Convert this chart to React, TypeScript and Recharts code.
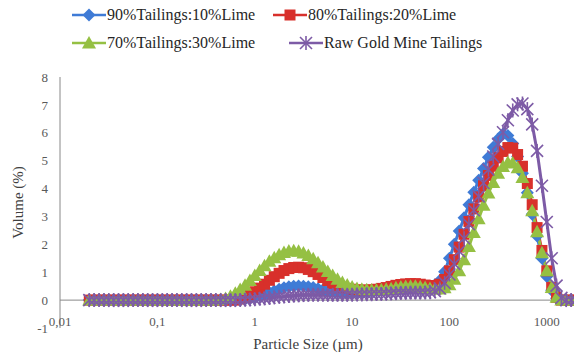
import React from 'react';
import { LineChart, Line, XAxis, YAxis, ReferenceLine } from 'recharts';

// particle size bins (µm), 20 per decade
const sizes = [
  0.02, 0.0224, 0.0252, 0.0283, 0.0317, 0.0356, 0.0399, 0.0448, 0.0502, 0.0564,
  0.0632, 0.071, 0.0796, 0.0893, 0.1002, 0.1125, 0.1262, 0.1416, 0.1589, 0.1783,
  0.2, 0.2244, 0.2518, 0.2825, 0.317, 0.3557, 0.3991, 0.4477, 0.5024, 0.5637,
  0.6325, 0.7096, 0.7962, 0.8934, 1.002, 1.125, 1.262, 1.416, 1.589, 1.783,
  2.0, 2.244, 2.518, 2.825, 3.17, 3.557, 3.991, 4.477, 5.024, 5.637,
  6.325, 7.096, 7.962, 8.934, 10.02, 11.25, 12.62, 14.16, 15.89, 17.83,
  20.0, 22.44, 25.18, 28.25, 31.7, 35.57, 39.91, 44.77, 50.24, 56.37,
  63.25, 70.96, 79.62, 89.34, 100.2, 112.5, 126.2, 141.6, 158.9, 178.3,
  200, 224.4, 251.8, 282.5, 317.0, 355.7, 399.1, 447.7, 502.4, 563.7,
  632.5, 709.6, 796.2, 893.4, 1002, 1125, 1262, 1416, 1589, 1783,
  2000,
];

const lime10 = [
  0, 0, 0, 0, 0, 0, 0, 0, 0, 0,
  0, 0, 0, 0, 0, 0, 0, 0, 0, 0,
  0, 0, 0, 0, 0, 0, 0, 0, 0, 0,
  0, 0, 0.03, 0.06, 0.1, 0.15, 0.21, 0.27, 0.33, 0.39,
  0.44, 0.48, 0.5, 0.51, 0.5, 0.48, 0.45, 0.41, 0.37, 0.33,
  0.3, 0.28, 0.27, 0.26, 0.26, 0.27, 0.28, 0.3, 0.32, 0.34,
  0.37, 0.4, 0.43, 0.46, 0.49, 0.51, 0.52, 0.52, 0.51, 0.5,
  0.5, 0.55, 0.7, 1.02, 1.5, 2.0, 2.48, 2.95, 3.42, 3.87,
  4.3, 4.72, 5.12, 5.48, 5.78, 5.96, 5.9, 5.62, 5.15, 4.55,
  3.85, 3.08, 2.3, 1.5, 0.85, 0.35, 0.07, 0, 0, 0,
  0,
];

const lime20 = [
  0, 0, 0, 0, 0, 0, 0, 0, 0, 0,
  0, 0, 0, 0, 0, 0, 0, 0, 0, 0,
  0, 0, 0, 0, 0, 0, 0, 0, 0, 0,
  0, 0.04, 0.1, 0.19, 0.3, 0.43, 0.57, 0.71, 0.84, 0.96,
  1.06, 1.13, 1.17, 1.18, 1.16, 1.1, 1.02, 0.92, 0.81, 0.7,
  0.6, 0.52, 0.46, 0.42, 0.39, 0.37, 0.36, 0.36, 0.37, 0.39,
  0.42, 0.45, 0.49, 0.53, 0.56, 0.58, 0.59, 0.59, 0.57, 0.54,
  0.52, 0.52, 0.57, 0.74, 1.05, 1.45, 1.9, 2.36, 2.82, 3.27,
  3.7, 4.1, 4.47, 4.8, 5.1, 5.33, 5.47, 5.45, 5.22, 4.8,
  4.18, 3.42, 2.6, 1.78, 1.05, 0.45, 0.1, 0, 0, 0,
  0,
];

const lime30 = [
  0, 0, 0, 0, 0, 0, 0, 0, 0, 0,
  0, 0, 0, 0, 0, 0, 0, 0, 0, 0,
  0, 0, 0, 0, 0, 0, 0, 0.02, 0.06, 0.14,
  0.25, 0.38, 0.53, 0.7, 0.88, 1.06, 1.23, 1.39, 1.52, 1.63,
  1.71, 1.76, 1.77, 1.75, 1.69, 1.6, 1.48, 1.34, 1.19, 1.03,
  0.88, 0.75, 0.63, 0.54, 0.47, 0.42, 0.39, 0.37, 0.36, 0.36,
  0.37, 0.39, 0.41, 0.44, 0.47, 0.49, 0.5, 0.5, 0.48, 0.45,
  0.42, 0.4, 0.4, 0.44, 0.55, 0.75, 1.05, 1.45, 1.92, 2.42,
  2.92, 3.4, 3.84, 4.22, 4.55, 4.79, 4.93, 4.92, 4.75, 4.4,
  3.85, 3.2, 2.45, 1.7, 1.05, 0.45, 0.1, 0, 0, 0,
  0,
];

const rawTailings = [
  0, 0, 0, 0, 0, 0, 0, 0, 0, 0,
  0, 0, 0, 0, 0, 0, 0, 0, 0, 0,
  0, 0, 0, 0, 0, 0, 0, 0, 0, 0,
  0, 0, 0.01, 0.02, 0.03, 0.05, 0.06, 0.08, 0.1, 0.12,
  0.13, 0.15, 0.16, 0.17, 0.18, 0.19, 0.19, 0.19, 0.19, 0.19,
  0.19, 0.19, 0.19, 0.19, 0.19, 0.2, 0.2, 0.21, 0.21, 0.22,
  0.22, 0.23, 0.24, 0.25, 0.26, 0.26, 0.27, 0.27, 0.27, 0.27,
  0.28, 0.32, 0.42, 0.62, 0.92, 1.3, 1.75, 2.22, 2.72, 3.22,
  3.72, 4.2, 4.68, 5.15, 5.6, 6.02, 6.45, 6.8, 7.02, 7.05,
  6.85, 6.3, 5.35, 4.1, 2.8, 1.5, 0.52, 0.08, 0, 0,
  0,
];

const xTicks = [0.01, 0.1, 1, 10, 100, 1000];
const yTicks = [-1, 0, 1, 2, 3, 4, 5, 6, 7, 8];

const series = [
  { key: 'lime10', name: '90%Tailings:10%Lime', color: '#3f7bd6', shape: 'diamond' },
  { key: 'lime20', name: '80%Tailings:20%Lime', color: '#d8302b', shape: 'square' },
  { key: 'lime30', name: '70%Tailings:30%Lime', color: '#95c043', shape: 'triangle' },
  { key: 'raw', name: 'Raw Gold Mine Tailings', color: '#7d5ba6', shape: 'star' },
];

const data = sizes.map((s, i) => ({
  size: s,
  lime10: lime10[i],
  lime20: lime20[i],
  lime30: lime30[i],
  raw: rawTailings[i],
}));

const FONT = 'Liberation Serif, DejaVu Serif, serif';

function Marker({ cx, cy, shape, color }: any) {
  if (shape === 'diamond') {
    return <polygon points={`${cx},${cy - 6.5} ${cx + 6.5},${cy} ${cx},${cy + 6.5} ${cx - 6.5},${cy}`} fill={color} />;
  }
  if (shape === 'square') {
    return <rect x={cx - 5.5} y={cy - 5.5} width={11} height={11} fill={color} />;
  }
  if (shape === 'triangle') {
    return <polygon points={`${cx},${cy - 7} ${cx + 7},${cy + 5.5} ${cx - 7},${cy + 5.5}`} fill={color} />;
  }
  return (
    <g stroke={color} strokeWidth={1.6}>
      <line x1={cx - 6} y1={cy - 6} x2={cx + 6} y2={cy + 6} />
      <line x1={cx - 6} y1={cy + 6} x2={cx + 6} y2={cy - 6} />
      <line x1={cx} y1={cy - 7} x2={cx} y2={cy + 7} />
    </g>
  );
}

const makeDot = (shape: string, color: string) => (props: any) => {
  const { cx, cy, index } = props;
  if (cx == null || cy == null) return <g key={index} />;
  return (
    <g key={index}>
      <Marker cx={cx} cy={cy} shape={shape} color={color} />
    </g>
  );
};

const XTick = ({ x, y, payload }: any) => (
  <text x={x} y={y} dy={-2} textAnchor="middle" fontSize={13} fontFamily={FONT} fill="#595959">
    {String(payload.value).replace('.', ',')}
  </text>
);

const legendPos = [
  { left: 72, top: 6 },
  { left: 273, top: 6 },
  { left: 72, top: 34 },
  { left: 289, top: 34 },
];

function LegendBox() {
  return (
    <>
      {series.map((s, i) => (
        <div
          key={s.key}
          style={{
            position: 'absolute',
            left: legendPos[i].left,
            top: legendPos[i].top,
            display: 'flex',
            alignItems: 'center',
            fontFamily: FONT,
            fontSize: 16,
            color: '#262626',
            whiteSpace: 'nowrap',
          }}
        >
          <svg width={34} height={14}>
            <line x1={0} y1={7} x2={34} y2={7} stroke={s.color} strokeWidth={2.5} />
            <Marker cx={17} cy={7} shape={s.shape} color={s.color} />
          </svg>
          <span style={{ marginLeft: 1 }}>{s.name}</span>
        </div>
      ))}
    </>
  );
}

export default function App() {
  return (
    <div
      style={{
        position: 'absolute',
        left: 0,
        top: 0,
        width: 574,
        height: 353,
        overflow: 'hidden',
        background: '#fff',
      }}
    >
      <LineChart width={580} height={353} data={data} margin={{ top: 77, right: 4, bottom: 0, left: 0 }}>
        <XAxis
          dataKey="size"
          type="number"
          scale="log"
          domain={[0.01, 2000]}
          ticks={xTicks}
          allowDataOverflow
          axisLine={false}
          tickLine={false}
          tickSize={0}
          tickMargin={0}
          height={25}
          tick={<XTick />}
          label={{
            value: 'Particle Size (µm)',
            position: 'insideBottom',
            offset: 4,
            dx: -10,
            style: { fontFamily: FONT, fontSize: 15, fill: '#404040' },
          }}
        />
        <YAxis
          type="number"
          domain={[-1, 8]}
          ticks={yTicks}
          width={60}
          tickLine={false}
          tickSize={0}
          tickMargin={12}
          axisLine={{ stroke: '#888' }}
          tick={{ fontFamily: FONT, fontSize: 13, fill: '#595959' }}
          label={{
            value: 'Volume (%)',
            angle: -90,
            position: 'insideLeft',
            offset: 18,
            style: { textAnchor: 'middle', fontFamily: FONT, fontSize: 15, fill: '#404040' },
          }}
        />
        <ReferenceLine y={0} stroke="#888" />
        {series.map((s) => (
          <Line
            key={s.key}
            dataKey={s.key}
            name={s.name}
            stroke={s.color}
            strokeWidth={3}
            dot={makeDot(s.shape, s.color)}
            activeDot={false}
            isAnimationActive={false}
          />
        ))}
      </LineChart>
      <LegendBox />
    </div>
  );
}
